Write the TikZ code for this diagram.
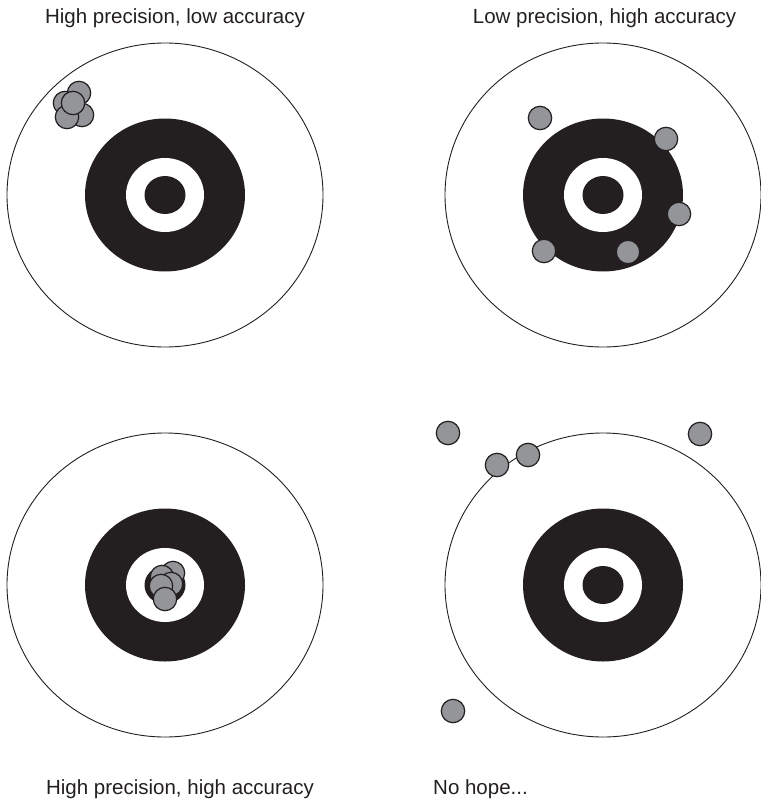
\documentclass[tikz,border=0pt]{standalone}
\usepackage{fontspec}
\setmainfont{Liberation Sans}
\definecolor{ink}{HTML}{231F20}
\definecolor{shotgray}{HTML}{939598}

\begin{document}
\begin{tikzpicture}[x=1pt,y=-1pt,font=\fontsize{20.5}{24}\selectfont,
 lbl/.style={inner sep=0pt,text=ink,anchor=base},
 rim/.style={draw=ink,line width=0.9pt},
 shot/.style={draw=ink,line width=1.2pt,fill=shotgray}]
\useasboundingbox (0,0) rectangle (760,800);
% four targets
\foreach \cx/\cy in {165/195,603/195,165/585,603/585}{
  \draw[rim] (\cx,\cy) ellipse [x radius=158,y radius=152];
  \fill[ink] (\cx,\cy) ellipse [x radius=80,y radius=76.5];
  \fill[white] (\cx,\cy) ellipse [x radius=39,y radius=37];
  \fill[ink] (\cx,\cy) ellipse [x radius=20.5,y radius=19];
}
% shots
\foreach \sx/\sy in {79/93,65/103,82/115,67/117,73/103}
  \draw[shot] (\sx,\sy) circle [radius=11.7];
\foreach \sx/\sy in {540/118,666/139,679/214,544/251,628/252}
  \draw[shot] (\sx,\sy) circle [radius=11.7];
\foreach \sx/\sy in {173/573,162/577,171/584,161/586,165/599}
  \draw[shot] (\sx,\sy) circle [radius=11.7];
\foreach \sx/\sy in {448/433,497/465,528/455,700/434,453/711}
  \draw[shot] (\sx,\sy) circle [radius=11.7];
% labels
\node[lbl] (hplo) at (175,24) {High precision, low accuracy};
\node[lbl] (lphi) at (604.5,24) {Low precision, high accuracy};
\node[lbl] (hphi) at (180,794) {High precision, high accuracy};
\node[lbl,anchor=base west] (nohope) at (433,794) {No hope...};
\end{tikzpicture}
\end{document}
